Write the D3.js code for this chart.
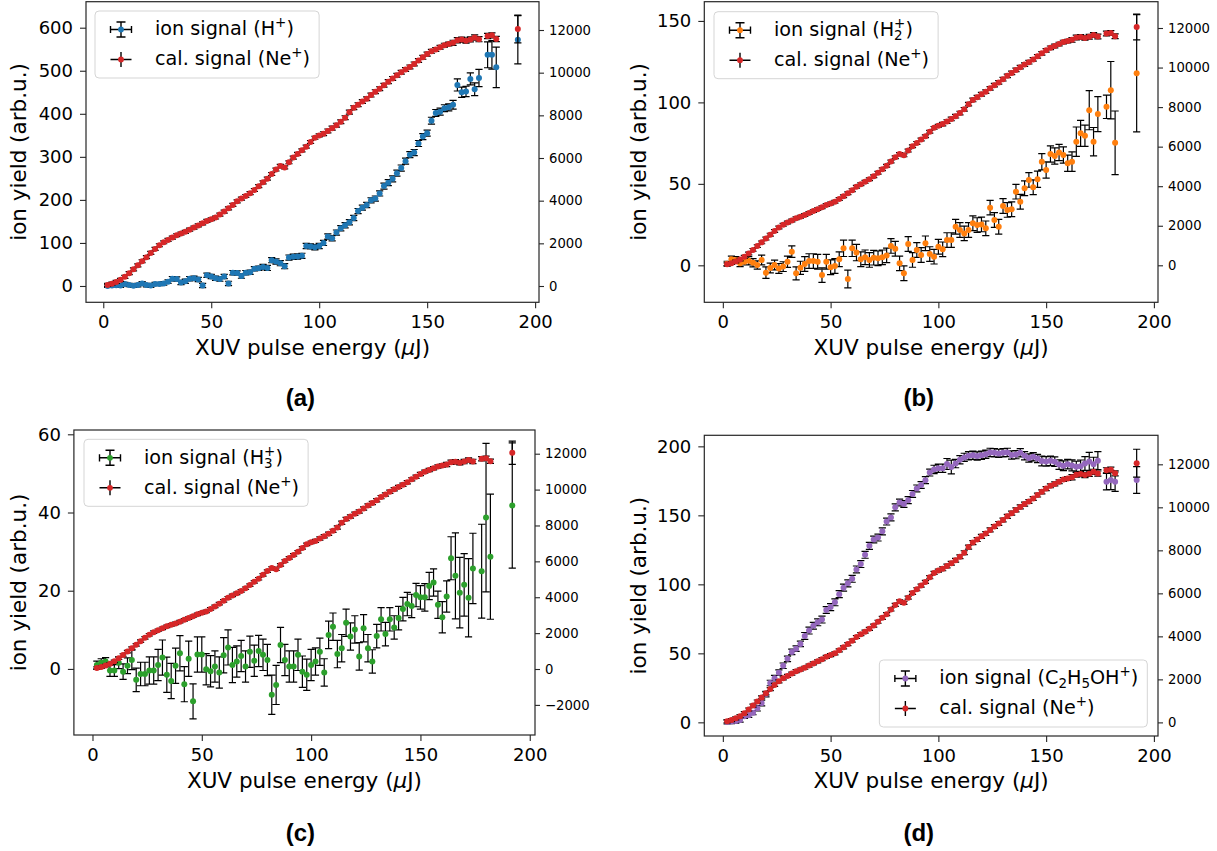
<!DOCTYPE html>
<html>
<head>
<meta charset="utf-8">
<script src="https://cdn.jsdelivr.net/npm/d3@7"></script>
<style>
  body { margin: 0; background: #fff; }
  svg { display: block; font-family: "DejaVu Sans", sans-serif; }
</style>
</head>
<body>
<svg id="fig" width="1217" height="851"></svg>
<script>
// XUV pulse energy bins (µJ)
const energy = [2,4,6,8,10,12,14,16,18,20,22,24,26,28,30,32,34,36,38,40,
  42,44,46,48,50,52,54,56,58,60,62,64,66,68,70,72,74,76,78,80,
  82,84,86,88,90,92,94,96,98,100,102,104,106,108,110,112,114,116,118,120,
  122,124,126,128,130,132,134,136,138,140,142,144,146,148,150,152,154,156,158,160,
  162,164,166,168,170,172,174,178,180,182,192];
const energyErr = 1;

// Ne+ calibration signal (right axis)
const neSignal = [50,110,190,290,430,600,780,970,1160,1350,
  1550,1740,1910,2050,2160,2270,2380,2460,2540,2640,
  2740,2840,2940,3050,3130,3210,3350,3490,3640,3800,
  3970,4100,4220,4350,4500,4680,4860,5030,5250,5460,
  5630,5560,5800,6020,6190,6360,6530,6750,6950,7060,
  7140,7270,7400,7540,7700,7890,8150,8360,8500,8650,
  8780,8950,9110,9250,9410,9580,9730,9880,10020,10150,
  10270,10410,10570,10720,10870,11000,11090,11190,11290,11340,
  11400,11520,11550,11500,11560,11650,11570,
  11720,11750,11580,12050];
const neErr = [70,70,70,70,70,70,70,70,70,70,
  70,70,70,70,70,70,70,70,70,70,
  70,70,70,70,70,70,70,70,70,70,
  70,70,70,70,70,70,70,70,70,70,
  70,70,70,70,70,70,70,70,70,70,
  90,90,90,90,90,90,90,90,90,90,
  90,90,90,90,90,90,90,90,90,90,
  90,90,90,90,90,90,90,90,90,90,
  120,120,120,120,120,120,120,
  120,120,120,650];

// H+ ion yield
const hSignal = [0,1,1.5,1,4.6,2.3,0.5,2,6,2,
  1,4.6,4.6,6,10,17,16,8,11,17,
  18,15,1,25,22,18,16,22,6,31,
  30,23,31,32,40,41,44,42,60,57,
  53,46,66,68,68.5,70,93,92,90,93,
  100,115,111,124,134,141,148,158,174,182,
  188,199,203,215,232,240,249,262,274,290,
  305,310,331,347,355,384,402,405,413,415,
  421,467,450,452,481,457,483,
  537,537,508,572];
const hErr = [3,3,3,4,4,4,4,4,4,4,
  4,4,4,4,4,5,5,5,5,5,
  5,5,5,5,5,5,5,5,5,5,
  5,5,5,5,5,5,6,6,6,6,
  6,6,6,6,6,6,6,6,6,6,
  6,6,6,6,6,6,6,6,6,6,
  6,6,6,6,7,7,7,7,7,7,
  7,7,7,7,7,8,8,8,8,8,
  10,14,12,12,14,15,20,
  30,33,47,56];

// H2+ ion yield
const h2Signal = [1,3.7,3.3,1.2,2.2,2.8,1.6,0.2,3.3,-4.5,
  -1.7,0.2,-1.9,-0.8,2.2,8.4,-4.9,-1.5,0.8,2.6,
  2.6,2.2,-6,2.2,-1.2,-0.4,3.7,10.4,-8.4,10.4,
  7.8,3.7,4.9,3.3,4.7,4.3,4.9,6.1,11.9,10.2,
  1.2,-4.9,13.1,3.3,9.4,6.3,13.5,6.9,5.3,11.4,
  9.8,15.5,15.5,23.7,21.7,19.6,21.7,25.8,24.7,25.1,
  22.7,35.4,27.8,23.7,36.4,34,34.4,45.2,39,47.3,
  52.4,47.9,52.8,63.6,58.5,68.3,67.1,69.2,67.7,62.6,
  63.6,75.9,81,79.5,95.2,75.9,92.8,
  97.3,107.5,75.2,117.9];
const h2Err = [1.5,2,2,2,2,2.5,2.5,2.5,3,3.5,
  3,3,3,3,3.5,3.5,4,4,4.5,4.5,
  4.5,4.5,4.5,4.5,4.5,4.5,4.5,5,5.5,5,
  5,4.5,4.5,4.5,4.5,4.5,4.5,4.5,4.5,4.5,
  4.5,4.5,4.5,4.5,4.5,4.5,4.5,4.5,4.5,4.5,
  4.5,4.5,4.5,4.5,4.5,4.5,4.5,4.5,4.5,4.5,
  4.5,4.5,4.5,4.5,4.5,4.5,4.5,4.5,4.5,4.5,
  4.5,4.5,5,5,5,5,5,5,5,5,
  6,9,8,6.5,12,8.7,10.7,
  7.2,17.6,19.5,36];

// H3+ ion yield
const h3Signal = [1,1.6,1.9,-0.4,-0.4,1.6,-0.7,0.8,2.3,-2.8,
  -1.3,-1.3,-0.4,-0.4,1,2.9,-1.5,-3.1,0.8,4,
  -3.9,2.6,-8.3,3.7,3.7,-0.1,-0.6,0.6,-0.9,3.5,
  5.5,1,1.9,3.3,0.6,4.4,2.1,4.6,3.6,2.3,
  -6.6,-4.1,6.1,2.3,0.6,0.6,3.6,-0.7,-1.5,1,
  1.9,4.4,-0.9,8.7,10.8,3.8,5.3,11.8,8.3,10.1,
  3.2,10.4,5.3,1.9,8.4,12.7,8.9,12.7,10.6,13,
  15.3,16.6,16.1,18.9,18.3,18.3,21.2,22.1,16.4,13.2,
  18.5,28.3,23.8,19.5,21.5,18.2,25.7,
  25,38.7,28.7,41.8];
const h3Err = [1,1,1,1.5,1.5,1.5,2,2,2.5,3,
  3,3,3.5,3.5,4,4.5,4.5,4.5,4.5,4.5,
  4.5,4.5,4.5,4.5,4.5,4,4,4,4,4.5,
  4.5,4.5,4,4,4,4,4,4,4,4,
  5,5,4.5,4,4,4,4,4,4,4,
  3.5,3.5,3.5,3.5,3.5,3.5,3.5,3.5,3.5,3.5,
  3.5,3.5,3.5,3,3,3,3,3,3,3,
  3,3,3,3,3,3.5,3.5,3.5,3.5,4,
  4,5.5,11,9,8,10,9,
  12,19,16,16];

// C2H5OH+ ion yield
const etohSignal = [0.3,0.6,1,1.7,4.4,5.1,7,10.2,14,20.5,
  28.5,32,36,41,46,51,53.4,56.8,62.6,66.5,
  70,72.5,74.5,81.4,83.5,87,92.9,97.6,100.7,104,
  110.8,114.7,121.4,127.9,132.5,133.9,138.4,145.5,148.5,155.8,
  159.3,158.2,161,165.5,169.5,172,175.5,181,183.3,184.1,
  184.1,187.2,185,187.5,190.3,192,193.2,193.6,193,193.5,
  194.3,195.6,195.4,194.9,195.3,195.6,193.7,194,195.4,193.2,
  191.6,192.5,191.2,189.4,189.1,189.5,188.9,186.8,185.9,187.1,
  186.2,185.2,185.6,187.6,189.1,187.1,189.6,
  174.4,175.6,174.4,175.6];
const etohErr = [1.5,1.5,1.5,1.5,1.5,1.5,1.5,2,2,2,
  2,2,2,2,2,2,2,2,2.5,2.5,
  2.5,2.5,2.5,2.5,2.5,2.5,2.5,2.5,2.5,2.5,
  2.5,2.5,2.5,2.5,2.5,2.5,2.5,2.5,2.5,2.5,
  2.5,2.5,2.5,2.5,2.5,2.5,2.5,2.5,3,3,
  3,4,5,3,3,3,3,3,3,3,
  3,3,3,3,3,3,3,3,3,3,
  3,3,3,3.5,3.5,3.5,3.5,3.5,3.5,3.5,
  4,4,4.5,5,6.5,5,6.5,
  6,7,7,9.7];

// Tick values
const xTicks = [0, 50, 100, 150, 200];
const rightTicksA = [0, 2000, 4000, 6000, 8000, 10000, 12000];
const rightTicksC = [-2000, 0, 2000, 4000, 6000, 8000, 10000, 12000];
const leftTicksA = [0, 100, 200, 300, 400, 500, 600];
const leftTicksB = [0, 50, 100, 150];
const leftTicksC = [0, 20, 40, 60];
const leftTicksD = [0, 50, 100, 150, 200];

// Legend / label texts; each part: [text, kind]
const neLabel = [["cal. signal (Ne", ""], ["+", "sup"], [")", ""]];
const ionLabels = {
  a: [["ion signal (H", ""], ["+", "sup"], [")", ""]],
  b: [["ion signal (H", ""], ["2", "subsup"], [")", ""]],
  c: [["ion signal (H", ""], ["3", "subsup"], [")", ""]],
  d: [["ion signal (C", ""], ["2", "sub"], ["H", ""], ["5", "sub"], ["OH", ""], ["+", "sup"], [")", ""]]
};

const colors = { red: "#d62728", blue: "#1f77b4", orange: "#ff7f0e", green: "#2ca02c", purple: "#9467bd" };

const panels = [
  { id: "a", left: 86, right: 539, top: 1.7, bottom: 302.3, xDomain: [-8.0, 201.8],
    yLeft: [-37.9, 660.4], yRight: [-764, 13327], leftTicks: leftTicksA, rightTicks: rightTicksA,
    ion: hSignal, ionErr: hErr, color: colors.blue,
    legend: { left: 95, top: 11 }, xlabelY: 348, ylabelX: 19, tag: "(a)", tagX: 300.4, tagY: 398 },
  { id: "b", left: 704.3, right: 1158, top: 1.7, bottom: 302.3, xDomain: [-8.6, 201.9],
    yLeft: [-22.7, 161.8], yRight: [-1871, 13330], leftTicks: leftTicksB, rightTicks: rightTicksA,
    ion: h2Signal, ionErr: h2Err, color: colors.orange,
    legend: { left: 714, top: 11.7 }, xlabelY: 348, ylabelX: 639.4, tag: "(b)", tagX: 918.8, tagY: 398 },
  { id: "c", left: 73.9, right: 535, top: 430, bottom: 735, xDomain: [-8.5, 202.4],
    yLeft: [-16.9, 61.1], yRight: [-3678, 13321], leftTicks: leftTicksC, rightTicks: rightTicksC,
    ion: h3Signal, ionErr: h3Err, color: colors.green,
    legend: { left: 84, top: 439.3 }, xlabelY: 781.7, ylabelX: 19, tag: "(c)", tagX: 300.4, tagY: 833 },
  { id: "d", left: 704.3, right: 1158, top: 435.3, bottom: 736, xDomain: [-8.6, 201.9],
    yLeft: [-9.9, 208], yRight: [-633, 13349], leftTicks: leftTicksD, rightTicks: rightTicksA,
    ion: etohSignal, ionErr: etohErr, color: colors.purple,
    legend: { right: 1147.3, top: 660 }, xlabelY: 781.7, ylabelX: 639.4, tag: "(d)", tagX: 918.8, tagY: 833 }
];

const svg = d3.select("#fig");
const TICK_FONT = 18, RIGHT_FONT = 13.2, LABEL_FONT = 21.5, LEGEND_FONT = 19.2, TAG_FONT = 24;
const CAP = 3.6, BAR_W = 1.2, DOT_R = 3;

// writes text made of normal / sub / sup / stacked sub+sup parts
function richText(textSel, parts, size) {
  const small = size * 0.7, supUp = size * 0.42, subDown = size * 0.2;
  let shift = 0; // current vertical offset (positive = down)
  let pendingDx = 0;
  parts.forEach(([t, kind]) => {
    if (kind === "") {
      textSel.append("tspan").attr("dx", pendingDx).attr("dy", -shift).attr("font-size", size).text(t);
      shift = 0; pendingDx = 0;
    } else if (kind === "sup") {
      textSel.append("tspan").attr("dx", pendingDx).attr("dy", -supUp - shift).attr("font-size", small).text(t);
      shift = -supUp; pendingDx = 0;
    } else if (kind === "sub") {
      textSel.append("tspan").attr("dx", pendingDx).attr("dy", subDown - shift).attr("font-size", small).text(t);
      shift = subDown; pendingDx = 0;
    } else if (kind === "subsup") {
      const sp = textSel.append("tspan").attr("dx", pendingDx).attr("dy", -supUp - shift).attr("font-size", small).text("+");
      const wPlus = sp.node().getComputedTextLength();
      const sb = textSel.append("tspan").attr("dx", -wPlus).attr("dy", supUp + subDown).attr("font-size", small).text(t);
      const wSub = sb.node().getComputedTextLength();
      shift = subDown; pendingDx = Math.max(0, wPlus - wSub);
    }
  });
}

// vertical error bars with caps, plus short horizontal energy bars
function errorPath(data, x, y) {
  const p = d3.path();
  data.forEach(d => {
    const cx = x(d.e), cy = y(d.v);
    const yTop = y(d.v + d.err), yBot = y(d.v - d.err);
    p.moveTo(cx, yTop); p.lineTo(cx, yBot);
    p.moveTo(cx - CAP, yTop); p.lineTo(cx + CAP, yTop);
    p.moveTo(cx - CAP, yBot); p.lineTo(cx + CAP, yBot);
    p.moveTo(x(d.e - energyErr), cy); p.lineTo(x(d.e + energyErr), cy);
  });
  return p.toString();
}

function drawPanel(p) {
  const x = d3.scaleLinear().domain(p.xDomain).range([p.left, p.right]);
  const yL = d3.scaleLinear().domain(p.yLeft).range([p.bottom, p.top]);
  const yR = d3.scaleLinear().domain(p.yRight).range([p.bottom, p.top]);
  const g = svg.append("g").attr("class", "panel-" + p.id);

  const clipId = "clip-" + p.id;
  g.append("clipPath").attr("id", clipId).append("rect")
    .attr("x", p.left).attr("y", p.top).attr("width", p.right - p.left).attr("height", p.bottom - p.top);
  const plot = g.append("g").attr("clip-path", `url(#${clipId})`);

  const ion = energy.map((e, i) => ({ e, v: p.ion[i], err: p.ionErr[i] }));
  const ne = energy.map((e, i) => ({ e, v: neSignal[i], err: neErr[i] }));

  // ion signal on the left axis
  plot.append("path").attr("d", errorPath(ion, x, yL))
    .attr("fill", "none").attr("stroke", "#000").attr("stroke-width", BAR_W);
  plot.append("g").selectAll("circle").data(ion).join("circle")
    .attr("cx", d => x(d.e)).attr("cy", d => yL(d.v)).attr("r", DOT_R).attr("fill", p.color);

  // Ne+ calibration on the twin right axis
  plot.append("path").attr("d", errorPath(ne, x, yR))
    .attr("fill", "none").attr("stroke", "#000").attr("stroke-width", BAR_W);
  plot.append("g").selectAll("circle").data(ne).join("circle")
    .attr("cx", d => x(d.e)).attr("cy", d => yR(d.v)).attr("r", DOT_R).attr("fill", colors.red);

  // frame
  g.append("rect").attr("x", p.left).attr("y", p.top)
    .attr("width", p.right - p.left).attr("height", p.bottom - p.top)
    .attr("fill", "none").attr("stroke", "#262626").attr("stroke-width", 1.2);

  const styleAxis = (sel, size) => {
    sel.select(".domain").remove();
    sel.attr("font-family", "DejaVu Sans, sans-serif").attr("font-size", size);
    sel.selectAll(".tick line").attr("stroke", "#262626").attr("stroke-width", 1.1);
    sel.selectAll(".tick text").attr("fill", "#000");
  };

  g.append("g").attr("transform", `translate(0,${p.bottom})`)
    .call(d3.axisBottom(x).tickValues(xTicks).tickSize(6).tickPadding(7).tickFormat(d3.format("d")))
    .call(s => styleAxis(s, TICK_FONT));
  g.append("g").attr("transform", `translate(${p.left},0)`)
    .call(d3.axisLeft(yL).tickValues(p.leftTicks).tickSize(6).tickPadding(7).tickFormat(d3.format("d")))
    .call(s => styleAxis(s, TICK_FONT));
  g.append("g").attr("transform", `translate(${p.right},0)`)
    .call(d3.axisRight(yR).tickValues(p.rightTicks).tickSize(5).tickPadding(5).tickFormat(d3.format("d")))
    .call(s => styleAxis(s, RIGHT_FONT));

  // axis titles
  const cx = (p.left + p.right) / 2, cy = (p.top + p.bottom) / 2;
  const xt = g.append("text").attr("x", cx).attr("y", p.xlabelY + 0.31 * LABEL_FONT)
    .attr("text-anchor", "middle").attr("font-size", LABEL_FONT).attr("fill", "#000");
  xt.append("tspan").text("XUV pulse energy (");
  xt.append("tspan").attr("font-style", "italic").text("\u03bc");
  xt.append("tspan").text("J)");
  g.append("text").attr("transform", `translate(${p.ylabelX + 0.31 * LABEL_FONT},${cy}) rotate(-90)`)
    .attr("text-anchor", "middle").attr("font-size", LABEL_FONT).attr("fill", "#000")
    .text("ion yield (arb.u.)");

  // panel tag
  g.append("text").attr("x", p.tagX).attr("y", p.tagY + 0.34 * TAG_FONT)
    .attr("text-anchor", "middle").attr("font-family", "Liberation Sans, Arial, sans-serif")
    .attr("font-weight", "bold").attr("font-size", TAG_FONT).attr("fill", "#000").text(p.tag);

  // legend
  const lg = g.append("g");
  const box = lg.append("rect");
  const rows = [ { y: 18.5, parts: ionLabels[p.id], ion: true }, { y: 48.5, parts: neLabel, ion: false } ];
  let maxW = 0;
  rows.forEach(r => {
    const t = lg.append("text").attr("y", r.y + 0.31 * LEGEND_FONT).attr("x", 60).attr("fill", "#000");
    richText(t, r.parts, LEGEND_FONT);
    maxW = Math.max(maxW, t.node().getComputedTextLength());
  });
  const boxW = 60 + maxW + 9, boxH = 67;
  const lx = p.legend.left !== undefined ? p.legend.left : p.legend.right - boxW;
  lg.attr("transform", `translate(${lx},${p.legend.top})`);
  box.attr("width", boxW).attr("height", boxH).attr("rx", 4)
    .attr("fill", "#fff").attr("fill-opacity", 0.85).attr("stroke", "#d5d5d5").attr("stroke-width", 1);
  rows.forEach(r => {
    const hx = 26, hy = r.y;
    const hp = d3.path();
    hp.moveTo(hx - 10.5, hy); hp.lineTo(hx + 10.5, hy);
    hp.moveTo(hx, hy - 7.5); hp.lineTo(hx, hy + 7.5);
    if (r.ion) {
      hp.moveTo(hx - 10.5, hy - CAP); hp.lineTo(hx - 10.5, hy + CAP);
      hp.moveTo(hx + 10.5, hy - CAP); hp.lineTo(hx + 10.5, hy + CAP);
      hp.moveTo(hx - 4.5, hy - 7.5); hp.lineTo(hx + 4.5, hy - 7.5);
      hp.moveTo(hx - 4.5, hy + 7.5); hp.lineTo(hx + 4.5, hy + 7.5);
    }
    lg.append("path").attr("d", hp.toString()).attr("fill", "none").attr("stroke", "#000").attr("stroke-width", 1.4);
    lg.append("circle").attr("cx", hx).attr("cy", hy).attr("r", 2.9).attr("fill", r.ion ? p.color : colors.red);
  });
}

panels.forEach(drawPanel);
</script>
</body>
</html>
